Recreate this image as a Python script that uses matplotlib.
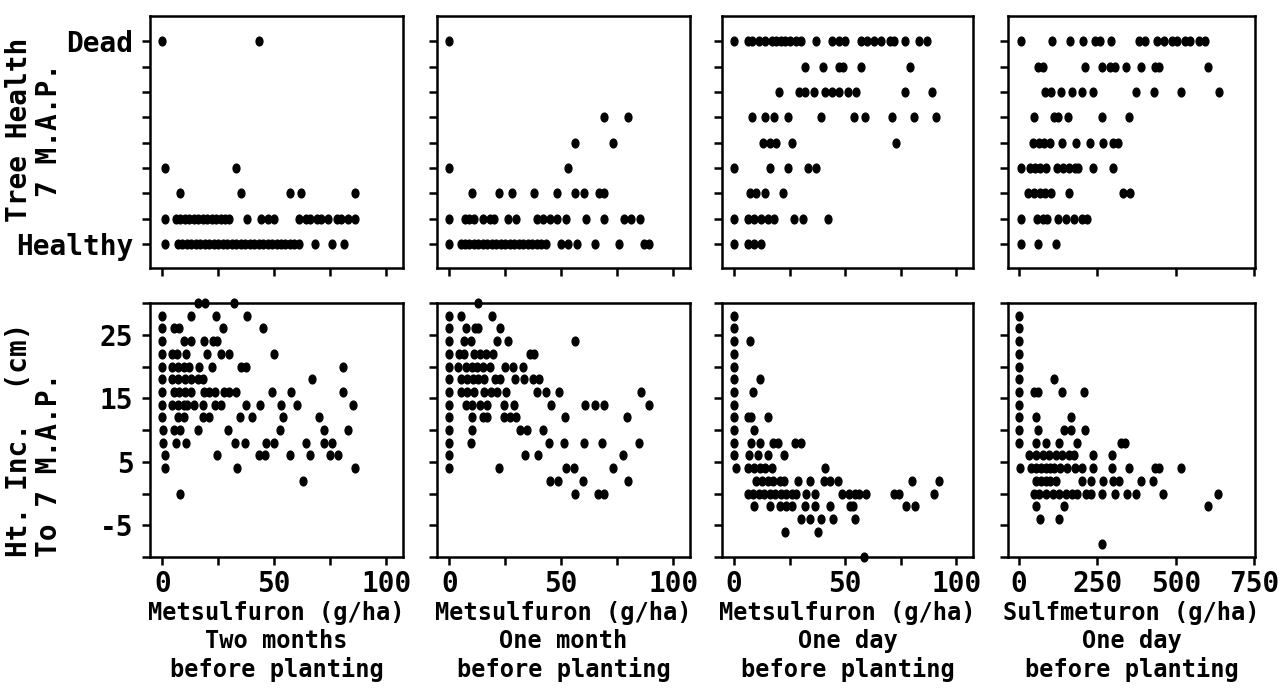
import numpy as np
import matplotlib.pyplot as plt
from matplotlib.path import Path
from matplotlib.transforms import Affine2D

# tree health score (0 = healthy, 8 = dead) -> herbicide rates
health_2mo = {
    8: [0, 43],
    3: [1, 33],
    2: [8, 35, 57, 62, 86],
    1: [1, 6, 8, 10, 12, 14, 16, 18, 20, 22, 24, 26, 28, 30, 38, 44, 47, 50,
        61, 64, 66, 69, 71, 74, 78, 80, 83, 86],
    0: [1, 7, 9, 11, 13, 15, 17, 19, 21, 23, 25, 27, 29, 31, 33, 35, 37, 39,
        41, 43, 45, 47, 49, 51, 53, 55, 57, 59, 61, 68, 76, 81],
}
health_1mo = {
    8: [0],
    5: [69, 80],
    4: [56, 73],
    3: [0, 53],
    2: [10, 22, 28, 38, 48, 56, 60, 67, 69],
    1: [0, 7, 9, 11, 15, 18, 20, 26, 30, 39, 42, 45, 48, 52, 61, 69, 78, 81, 85],
    0: [0, 5, 7, 9, 11, 13, 15, 17, 19, 21, 23, 25, 27, 29, 31, 33, 35, 37,
        39, 41, 43, 50, 53, 57, 65, 76, 87, 89],
}
health_1day = {
    8: [0, 6, 8, 11, 14, 17, 19, 21, 23, 25, 28, 30, 37, 44, 47, 50,
        57, 60, 63, 66, 70, 72, 77, 83, 87],
    7: [32, 40, 47, 49, 57, 79],
    6: [20, 29, 32, 36, 41, 44, 47, 51, 55, 77, 89],
    5: [8, 14, 18, 24, 39, 54, 59, 71, 81, 91],
    4: [13, 16, 19, 26, 73],
    3: [0, 16, 24, 33, 37],
    2: [7, 10, 14, 22],
    1: [0, 6, 9, 12, 15, 18, 27, 31, 42],
    0: [0, 6, 9, 12],
}
health_sulf = {
    8: [5, 104, 163, 205, 243, 258, 294, 381, 402, 440, 461, 487, 505, 530, 546, 572, 594],
    7: [62, 78, 211, 264, 290, 306, 340, 389, 434, 445, 602],
    6: [83, 102, 133, 170, 200, 237, 373, 429, 517, 636],
    5: [48, 110, 123, 155, 264, 352],
    4: [46, 64, 80, 98, 136, 181, 227, 269, 301, 317],
    3: [8, 35, 50, 66, 85, 120, 140, 160, 180, 189, 237, 299],
    2: [30, 48, 66, 84, 102, 160, 330, 354],
    1: [8, 56, 75, 90, 125, 150, 175, 200, 216],
    0: [5, 62, 117],
}

# height increment (cm) -> herbicide rates
ht_2mo = {
    30: [16, 19, 32],
    28: [0, 13, 24, 38],
    26: [0, 5, 7.5, 27, 45],
    24: [0, 9.5, 13, 18.5, 22.5, 24.5],
    22: [0, 4.5, 6.5, 10.5, 20, 26, 30, 50],
    20: [0, 4.5, 7, 9.5, 12, 16.5, 22, 35, 37.5, 80.5],
    18: [0, 4.5, 7, 10, 13, 16, 18, 67],
    16: [0, 5, 7.5, 10, 13, 18.5, 21, 23.5, 27.5, 30, 33, 49, 57.5, 80.5],
    14: [0, 4.5, 7, 9.5, 11, 14, 18, 23.5, 26, 37.5, 43.5, 53, 60, 85],
    12: [0, 7, 9.5, 18, 21, 34.5, 40, 54, 70],
    10: [0.5, 5, 8, 16, 29.5, 52.5, 72, 83],
    8: [0.5, 6, 10.5, 32.5, 37, 46.5, 50, 64, 72, 76],
    6: [1, 24.5, 43, 46, 57, 66, 75, 78.5],
    4: [1, 33.5, 86],
    2: [63],
    0: [8],
}
ht_1mo = {
    30: [13],
    28: [0, 5, 19],
    26: [0, 7.5, 11.5, 13, 22.5],
    24: [0, 6.5, 9.5, 21.5, 26, 56],
    22: [0, 4.5, 6.5, 11, 13.5, 16.5, 19.5, 36, 38],
    20: [0, 4, 7.5, 10, 12.5, 15, 18, 25, 28.5, 33],
    18: [0, 5, 8, 10.5, 13, 15.5, 20.5, 22.5, 29.5, 33.5, 37.5, 40],
    16: [0, 5, 8, 11, 15.5, 18.5, 21.5, 25.5, 39, 43, 49, 85.5],
    14: [0, 7.5, 10, 13.5, 17, 24.5, 29, 45.5, 60.5, 65, 69, 89],
    12: [0, 10, 15, 17, 24.5, 27, 30, 51.5, 79.5],
    10: [0, 10, 31.5, 34.5, 42],
    8: [0, 9.5, 44.5, 51, 60, 68, 84.5],
    6: [0, 34, 39.5, 77.5],
    4: [0, 22, 52, 55.5, 73],
    2: [45, 48.5, 59.5, 80],
    0: [56, 66.5, 69],
}
ht_1day = {
    28: [0], 26: [0], 24: [0, 7], 22: [0], 20: [0],
    18: [0, 11.5], 16: [0, 8.5], 14: [0],
    12: [0, 6, 7.5, 15], 10: [0, 9],
    8: [0, 7.5, 11.5, 17.5, 19.5, 27.5, 30],
    6: [0, 6.5, 10.5, 15, 22.5],
    4: [1, 6, 9, 11.5, 14, 17, 41],
    2: [10, 12.5, 15, 17.5, 20.5, 22.5, 28.5, 34, 40.5, 43, 46.5, 80, 92],
    0: [6, 8.5, 11, 13.5, 16, 18.5, 21, 23.5, 26, 28, 32.5, 36.5, 48.5, 51.5,
        54.5, 56, 59.5, 72, 74, 90],
    -2: [9, 16, 20.5, 23.5, 26, 32, 36.5, 43, 52, 53.5, 77.5, 81.5],
    -4: [30, 34, 39, 44.5, 54.5],
    -6: [23, 37.5],
    -10: [58.5],
}
ht_sulf = {
    28: [0], 26: [0], 24: [0], 22: [0], 20: [0],
    18: [0, 112],
    16: [0, 48, 59, 138, 207],
    14: [0],
    12: [0, 55, 167],
    10: [0, 62, 144, 165, 211],
    8: [0, 53, 87, 128, 184, 325, 337],
    6: [32, 53, 75, 96, 117, 138, 160, 176, 237, 296],
    4: [3, 37, 53, 70, 85, 100, 112, 131, 154, 177, 202, 236, 296, 349, 434, 447, 516],
    2: [53, 70, 85, 100, 117, 200, 229, 268, 298, 319, 388, 428],
    0: [48, 64, 85, 108, 128, 149, 168, 186, 213, 229, 266, 306, 343, 374, 458, 635],
    -2: [53, 144, 601],
    -4: [67, 128],
    -8: [266],
}

xlabels = ["Metsulfuron (g/ha)\nTwo months\nbefore planting",
           "Metsulfuron (g/ha)\nOne month\nbefore planting",
           "Metsulfuron (g/ha)\nOne day\nbefore planting",
           "Sulfmeturon (g/ha)\nOne day\nbefore planting"]

health_sets = [health_2mo, health_1mo, health_1day, health_sulf]
ht_sets = [ht_2mo, ht_1mo, ht_1day, ht_sulf]


def expand(d):
    xs, ys = [], []
    for lev, vals in d.items():
        xs += vals
        ys += [lev] * len(vals)
    return np.array(xs, float), np.array(ys, float)


plt.rcParams['font.family'] = 'DejaVu Sans Mono'
plt.rcParams['font.weight'] = 'bold'

# slightly tall dot, like the plotter marks
circ = Path.unit_circle()
dot = Affine2D().scale(0.78, 1.0).transform_path(circ)

W, H = 1281, 695
fig = plt.figure(figsize=(W / 100, H / 100), dpi=100)

cols = [(150, 403), (437, 690), (722, 973), (1008, 1255)]
top_row = (16, 268)
bot_row = (303, 557)


def add_ax(c, r):
    x0, x1 = c
    y0, y1 = r
    return fig.add_axes([x0 / W, 1 - y1 / H, (x1 - x0) / W, (y1 - y0) / H])


for i in range(4):
    is_sulf = i == 3
    if is_sulf:
        xlim = (-35, 752)
        xt = [0, 250, 500, 750]
        xtl = ['0', '250', '500', '750']
    else:
        xlim = (-5.5, 107.5)
        xt = [0, 25, 50, 75, 100]
        xtl = ['0', '', '50', '', '100']

    # tree health
    ax = add_ax(cols[i], top_row)
    x, y = expand(health_sets[i])
    ax.plot(x, y, ls='none', marker=dot, ms=6.3, color='black', clip_on=False)
    ax.set_xlim(*xlim)
    ax.set_ylim(-0.95, 9.0)
    ax.set_yticks(range(9))
    ax.set_xticks(xt)
    ax.set_xticklabels([])
    if i == 0:
        ax.set_yticklabels(['Healthy', '', '', '', '', '', '', '', 'Dead'])
    else:
        ax.set_yticklabels([])

    # height increment
    ax2 = add_ax(cols[i], bot_row)
    x, y = expand(ht_sets[i])
    ax2.plot(x, y, ls='none', marker=dot, ms=6.3, color='black', clip_on=False)
    ax2.set_xlim(*xlim)
    ax2.set_ylim(-10, 30)
    ax2.set_yticks(range(-10, 31, 5))
    ax2.set_xticks(xt)
    ax2.set_xticklabels(xtl)
    if i == 0:
        ax2.set_yticklabels(['', '-5', '', '5', '', '15', '', '25', ''])
    else:
        ax2.set_yticklabels([])

    for a in (ax, ax2):
        for s in a.spines.values():
            s.set_linewidth(1.8)
        a.tick_params(direction='out', length=6, width=1.8, labelsize=20)
        a.tick_params(axis='x', pad=3)
        a.tick_params(axis='y', pad=6)

    xc = (cols[i][0] + cols[i][1]) / 2
    fig.text(xc / W, 1 - 601 / H, xlabels[i], ha='center', va='top',
             fontsize=17, linespacing=1.2)

fig.text(34 / W, 1 - 130 / H, "Tree Health\n7 M.A.P.", rotation=90,
         ha='center', va='center', multialignment='center', fontsize=20,
         linespacing=1.1)
fig.text(34 / W, 1 - 557 / H, "Ht. Inc.  (cm)\nTo 7 M.A.P.", rotation=90,
         ha='center', va='bottom', multialignment='left', fontsize=20,
         linespacing=1.1)

fig.savefig('out.png', dpi=100)
